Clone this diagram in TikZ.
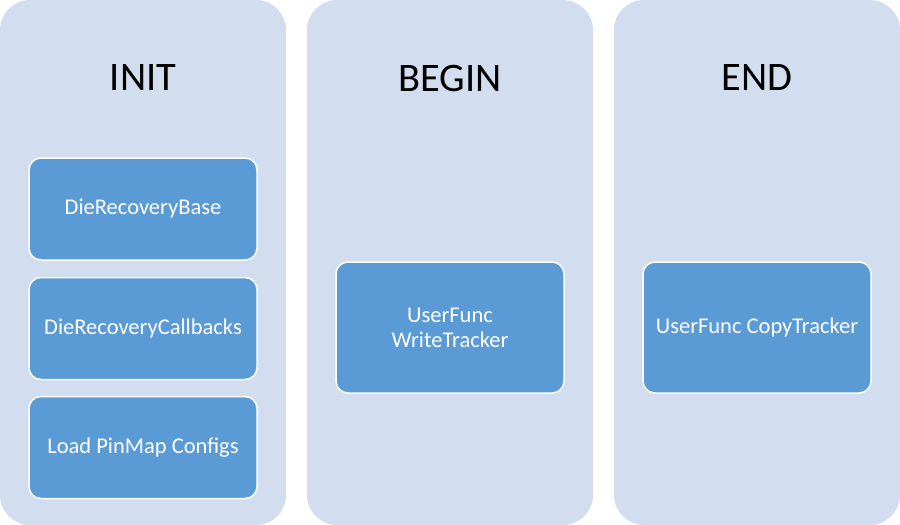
\documentclass[tikz,border=0pt]{standalone}
\usepackage{fontspec}
\setmainfont{Carlito}
\definecolor{colbg}{HTML}{D2DEEF}
\definecolor{boxbg}{HTML}{5B9BD5}
\begin{document}
\begin{tikzpicture}[x=1pt,y=-1pt,
  column/.style={fill=colbg,rounded corners=30pt},
  title/.style={font=\fontsize{40.5}{48}\selectfont,text=black,anchor=center},
  stepbox/.style={draw=white,line width=1.5pt,fill=boxbg,rounded corners=12pt,
    minimum width=228pt,text=white,align=center,font=\fontsize{22.5}{25}\selectfont,inner sep=0pt}]
\useasboundingbox (0,0) rectangle (900,525);
\fill[column] (0,0) rectangle (286,525);
\fill[column] (307,0) rectangle (593,525);
\fill[column] (614,0) rectangle (900,525);
\node[title] (tinit) at (143,78) {INIT};
\node[title] (tbegin) at (450,78) {BEGIN};
\node[title] (tend) at (757,78) {END};
\node[stepbox,minimum height=102pt] (b1) at (143,209) {DieRecoveryBase};
\node[stepbox,minimum height=102pt] (b2) at (143,328.5) {DieRecoveryCallbacks};
\node[stepbox,minimum height=102pt] (b3) at (143,447.5) {Load PinMap Configs};
\node[stepbox,minimum height=131pt] (b4) at (450,327.5) {UserFunc\\WriteTracker};
\node[stepbox,minimum height=131pt] (b5) at (757,327.5) {UserFunc CopyTracker};
\end{tikzpicture}
\end{document}
